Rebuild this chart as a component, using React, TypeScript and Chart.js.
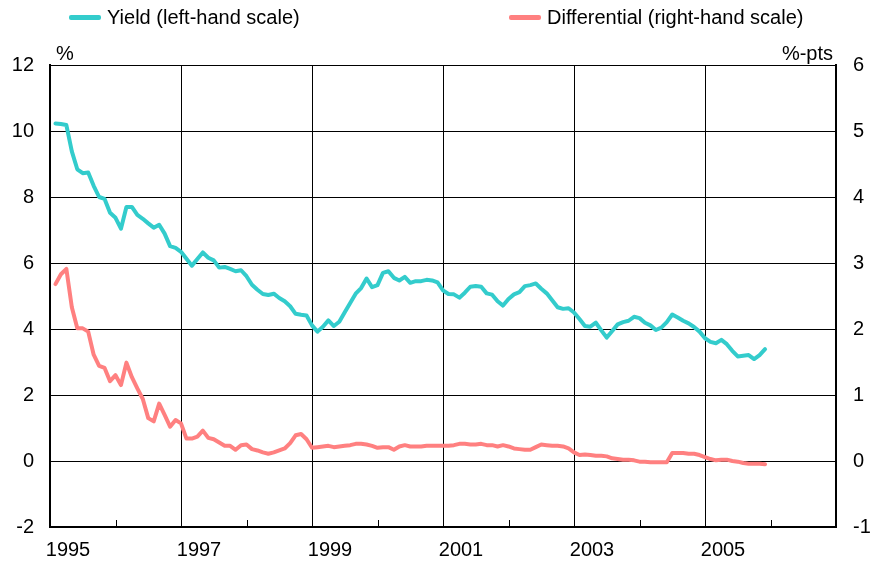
import React, { useEffect, useRef } from 'react';
import { Chart, registerables } from 'chart.js';

Chart.register(...registerables);

// ---- Data (monthly, Jan 1995 – Nov 2005, month-end) ----
const START_YEAR = 1995;
const X_MIN = 1995;
const X_MAX = 2007;
const YEAR_LABELS = ['1995', '1997', '1999', '2001', '2003', '2005'];

const yieldValues = [
  10.23, 10.21, 10.18, 9.38, 8.84, 8.72, 8.74, 8.34, 8.0, 7.94, 7.52, 7.37,
  7.04, 7.7, 7.7, 7.46, 7.34, 7.2, 7.07, 7.16, 6.89, 6.51, 6.46, 6.34,
  6.13, 5.92, 6.12, 6.32, 6.16, 6.08, 5.86, 5.88, 5.82, 5.75, 5.78, 5.6,
  5.34, 5.19, 5.06, 5.03, 5.07, 4.94, 4.84, 4.69, 4.46, 4.43, 4.41, 4.11,
  3.92, 4.07, 4.26, 4.09, 4.22, 4.51, 4.79, 5.07, 5.24, 5.53, 5.27, 5.33,
  5.7, 5.75, 5.55, 5.47, 5.58, 5.4, 5.45, 5.45, 5.49, 5.47, 5.41, 5.17,
  5.06, 5.05, 4.95, 5.1, 5.28, 5.3, 5.28, 5.08, 5.04, 4.84, 4.71, 4.91,
  5.05, 5.12, 5.3, 5.33, 5.38, 5.22, 5.08, 4.87, 4.66, 4.61, 4.63, 4.5,
  4.3, 4.09, 4.07, 4.19, 3.96, 3.74, 3.94, 4.14, 4.21, 4.25, 4.37, 4.33,
  4.19, 4.11, 3.97, 4.04, 4.21, 4.44, 4.35, 4.25, 4.17, 4.06, 3.92, 3.72,
  3.61, 3.57, 3.67, 3.54, 3.34, 3.17, 3.19, 3.21, 3.09, 3.21, 3.39,
];

const differentialValues = [
  2.68, 2.83, 2.91, 2.33, 2.01, 2.01, 1.96, 1.61, 1.44, 1.41, 1.21, 1.3,
  1.15, 1.49, 1.27, 1.1, 0.94, 0.65, 0.6, 0.87, 0.7, 0.52, 0.62, 0.57,
  0.34, 0.34, 0.37, 0.46, 0.35, 0.33, 0.28, 0.23, 0.23, 0.17, 0.24, 0.25,
  0.18, 0.16, 0.13, 0.11, 0.13, 0.16, 0.19, 0.27, 0.39, 0.41, 0.33, 0.2,
  0.21, 0.22, 0.23, 0.21, 0.22, 0.23, 0.24, 0.26, 0.26, 0.25, 0.23, 0.2,
  0.21, 0.21, 0.17, 0.22, 0.24, 0.22, 0.22, 0.22, 0.23, 0.23, 0.23, 0.23,
  0.23, 0.24, 0.26, 0.26, 0.25, 0.25, 0.26, 0.24, 0.24, 0.22, 0.24, 0.22,
  0.19, 0.18, 0.17, 0.17, 0.21, 0.25, 0.24, 0.23, 0.23, 0.22, 0.19, 0.13,
  0.09, 0.1, 0.09, 0.08, 0.08, 0.07, 0.04, 0.03, 0.02, 0.02, 0.01, -0.01,
  -0.01, -0.02, -0.02, -0.02, -0.02, 0.12, 0.12, 0.12, 0.11, 0.11, 0.09, 0.06,
  0.03, 0.01, 0.02, 0.02, 0.0, -0.01, -0.03, -0.04, -0.04, -0.04, -0.05,
];

const LEFT_MIN = -2;
const LEFT_MAX = 12;
const LEFT_STEP = 2;
const RIGHT_MIN = -1;
const RIGHT_MAX = 6;
const RIGHT_STEP = 1;

const SERIES_NAMES = ['Yield (left-hand scale)', 'Differential (right-hand scale)'];
const LEFT_UNIT = '%';
const RIGHT_UNIT = '%-pts';

const YIELD_COLOR = '#33CCCC';
const DIFF_COLOR = '#FF8080';
const FONT = '"Liberation Sans", Arial, Helvetica, sans-serif';

const monthEnd = (i: number) => START_YEAR + (i + 1) / 12;

const decorPlugin = {
  id: 'decor',
  afterDatasetsDraw(chart: any) {
    const { ctx, chartArea, scales } = chart;
    const xs = scales.x;
    ctx.save();
    // inner tick marks at each year
    ctx.strokeStyle = '#000';
    ctx.lineWidth = 1;
    for (let yr = X_MIN + 1; yr < X_MAX; yr++) {
      const px = Math.round(xs.getPixelForValue(yr)) + 0.5;
      ctx.beginPath();
      ctx.moveTo(px, chartArea.bottom);
      ctx.lineTo(px, chartArea.bottom - 7);
      ctx.stroke();
    }
    // unit labels
    ctx.fillStyle = '#000';
    ctx.font = `20px ${FONT}`;
    ctx.textBaseline = 'alphabetic';
    ctx.textAlign = 'left';
    ctx.fillText(LEFT_UNIT, chartArea.left + 6, chartArea.top - 5);
    ctx.textAlign = 'right';
    ctx.fillText(RIGHT_UNIT, chartArea.right - 3, chartArea.top - 5);
    ctx.restore();
  },
};

export default function App() {
  const canvasRef = useRef<HTMLCanvasElement | null>(null);

  useEffect(() => {
    if (!canvasRef.current) return;
    const chart = new Chart(canvasRef.current, {
      type: 'line',
      data: {
        datasets: [
          {
            label: SERIES_NAMES[0],
            data: yieldValues.map((v, i) => ({ x: monthEnd(i), y: v })),
            borderColor: YIELD_COLOR,
            backgroundColor: YIELD_COLOR,
            borderWidth: 4,
            pointRadius: 0,
            tension: 0,
            borderJoinStyle: 'round',
            borderCapStyle: 'round',
            yAxisID: 'y',
          },
          {
            label: SERIES_NAMES[1],
            data: differentialValues.map((v, i) => ({ x: monthEnd(i), y: v })),
            borderColor: DIFF_COLOR,
            backgroundColor: DIFF_COLOR,
            borderWidth: 4,
            pointRadius: 0,
            tension: 0,
            borderJoinStyle: 'round',
            borderCapStyle: 'round',
            yAxisID: 'y1',
          },
        ],
      },
      options: {
        animation: false,
        responsive: false,
        maintainAspectRatio: false,
        layout: { padding: { top: 65, left: 0, right: 0, bottom: 0 } },
        plugins: {
          legend: { display: false },
          tooltip: { enabled: false },
        },
        scales: {
          x: {
            type: 'linear',
            min: X_MIN,
            max: X_MAX,
            afterFit: (s: any) => { s.height = 48; },
            border: { display: true, color: '#000', width: 2 },
            grid: {
              drawTicks: false,
              lineWidth: 1,
              color: (c: any) =>
                c.tick && Math.round(c.tick.value) % 2 === 1 ? '#000' : 'rgba(0,0,0,0)',
            },
            ticks: {
              stepSize: 1,
              autoSkip: false,
              maxRotation: 0,
              padding: 11,
              labelOffset: 18,
              color: '#000',
              font: { family: FONT, size: 20 },
              callback: (v: any) => (YEAR_LABELS.includes(String(v)) ? String(v) : ''),
            },
          },
          y: {
            position: 'left',
            min: LEFT_MIN,
            max: LEFT_MAX,
            afterFit: (s: any) => { s.width = 50; },
            border: { display: true, color: '#000', width: 2 },
            grid: { drawTicks: false, color: '#000', lineWidth: 1 },
            ticks: {
              stepSize: LEFT_STEP,
              padding: 16,
              color: '#000',
              font: { family: FONT, size: 20 },
            },
          },
          y1: {
            position: 'right',
            min: RIGHT_MIN,
            max: RIGHT_MAX,
            afterFit: (s: any) => { s.width = 38; },
            border: { display: true, color: '#000', width: 2 },
            grid: { display: false, drawTicks: false },
            ticks: {
              stepSize: RIGHT_STEP,
              padding: 17,
              color: '#000',
              font: { family: FONT, size: 20 },
            },
          },
        },
      },
      plugins: [decorPlugin],
    } as any);
    return () => chart.destroy();
  }, []);

  const legendItem = (left: number, color: string, text: string) => (
    <div
      style={{
        position: 'absolute',
        left,
        top: 5,
        height: 24,
        display: 'flex',
        alignItems: 'center',
        fontFamily: FONT,
        fontSize: 20,
        color: '#000',
        whiteSpace: 'nowrap',
      }}
    >
      <div style={{ width: 32, height: 5, background: color, borderRadius: 2, marginRight: 6 }} />
      <span>{text}</span>
    </div>
  );

  return (
    <div style={{ position: 'fixed', left: 0, top: 0, width: 874, height: 575, background: '#fff' }}>
      <canvas ref={canvasRef} width={874} height={575} style={{ position: 'absolute', left: 0, top: 0 }} />
      {legendItem(69, YIELD_COLOR, SERIES_NAMES[0])}
      {legendItem(509, DIFF_COLOR, SERIES_NAMES[1])}
    </div>
  );
}
